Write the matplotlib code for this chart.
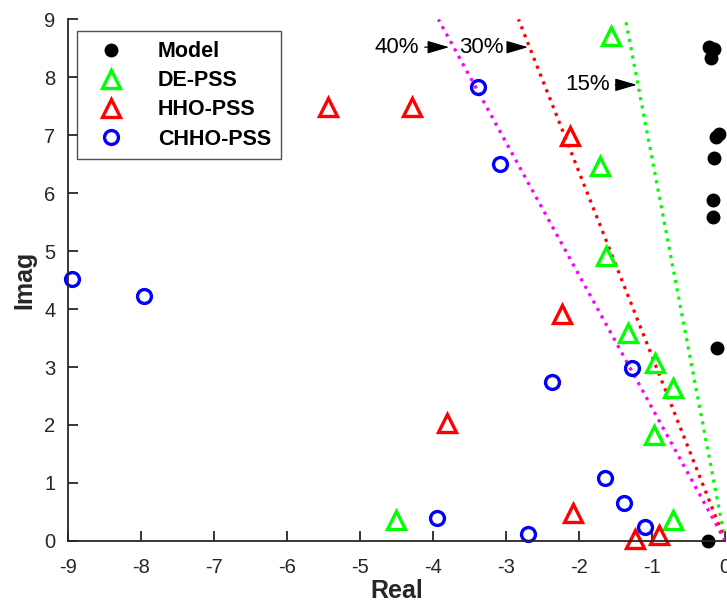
import numpy as np
import matplotlib
matplotlib.use('Agg')
import matplotlib.pyplot as plt

plt.rcParams['font.family'] = ['Liberation Sans', 'DejaVu Sans']
plt.rcParams['axes.unicode_minus'] = False

# eigenvalues
model_re = [-0.215, -0.147, -0.19, -0.08, -0.12, -0.15, -0.17, -0.17, -0.11, -0.24]
model_im = [8.52, 8.48, 8.34, 7.03, 6.97, 6.6, 5.88, 5.59, 3.33, 0.0]

de_re = [-1.57, -1.72, -1.63, -1.33, -0.96, -0.71, -0.97, -0.71, -4.51]
de_im = [8.72, 6.47, 4.91, 3.59, 3.07, 2.64, 1.83, 0.36, 0.36]

hho_re = [-5.44, -4.29, -2.12, -2.24, -3.81, -2.08, -1.23, -0.91]
hho_im = [7.48, 7.48, 6.98, 3.91, 2.03, 0.48, 0.03, 0.10]

chho_re = [-8.94, -7.96, -3.38, -3.08, -2.37, -1.27, -1.64, -1.39, -1.10, -2.70, -3.94]
chho_im = [4.52, 4.22, 7.84, 6.50, 2.74, 2.98, 1.09, 0.66, 0.24, 0.12, 0.40]

# damping ratio reference lines
zetas = [0.15, 0.30, 0.40]
zeta_colors = ['#00ff00', '#ff0000', '#ff00ff']

fig = plt.figure(figsize=(7.27, 6.05), dpi=100)
ax = fig.add_axes([0.0935, 0.106, 0.904, 0.862])

for z, c in zip(zetas, zeta_colors):
    yy = np.array([0, 9])
    xx = -yy * z / np.sqrt(1 - z**2)
    ax.plot(xx, yy, ':', color=c, lw=2.3)

ax.plot(model_re, model_im, 'o', color='k', ms=9, label='Model', clip_on=False)
ax.plot(de_re, de_im, '^', mfc='none', mec='#00ff00', mew=2.4, ms=12.5, label='DE-PSS', clip_on=False)
ax.plot(hho_re, hho_im, '^', mfc='none', mec='#ff0000', mew=2.4, ms=12.5, label='HHO-PSS', clip_on=False)
ax.plot(chho_re, chho_im, 'o', mfc='none', mec='#0000ff', mew=2.4, ms=10, label='CHHO-PSS', clip_on=False)

arrow = dict(arrowstyle='-|>,head_length=0.75,head_width=0.22', color='k', lw=0.9,
             mutation_scale=18, shrinkA=2, shrinkB=0)
ax.annotate('40%', xy=(-3.78, 8.52), xytext=(-4.80, 8.52), fontsize=16, va='center', arrowprops=arrow)
ax.annotate('30%', xy=(-2.70, 8.52), xytext=(-3.65, 8.52), fontsize=16, va='center', arrowprops=arrow)
ax.annotate('15%', xy=(-1.21, 7.87), xytext=(-2.19, 7.87), fontsize=16, va='center', arrowprops=arrow)

ax.set_xlim(-9, 0)
ax.set_ylim(0, 9)
ax.set_xticks(range(-9, 1))
ax.set_yticks(range(0, 10))
ax.spines['top'].set_visible(False)
ax.spines['right'].set_visible(False)
for s in ['left', 'bottom']:
    ax.spines[s].set_color('#262626')
    ax.spines[s].set_linewidth(1.3)
ax.tick_params(direction='in', length=7, width=1.3, color='#262626', labelsize=14.5, labelcolor='#262626')
ax.tick_params(axis='x', pad=12)
ax.tick_params(axis='y', pad=9)

ax.set_xlabel('Real', fontsize=18, fontweight='bold', color='#262626', labelpad=2)
ax.set_ylabel('Imag', fontsize=18, fontweight='bold', color='#262626', labelpad=6)

leg = ax.legend(loc='upper left', bbox_to_anchor=(0.014, 0.977), borderaxespad=0, fancybox=False,
                edgecolor='#262626', prop={'weight': 'bold', 'size': 15.5}, handletextpad=1.1,
                borderpad=0.45, labelspacing=0.38, handlelength=2.2)
leg.get_frame().set_linewidth(1.0)

plt.savefig('out.png')
